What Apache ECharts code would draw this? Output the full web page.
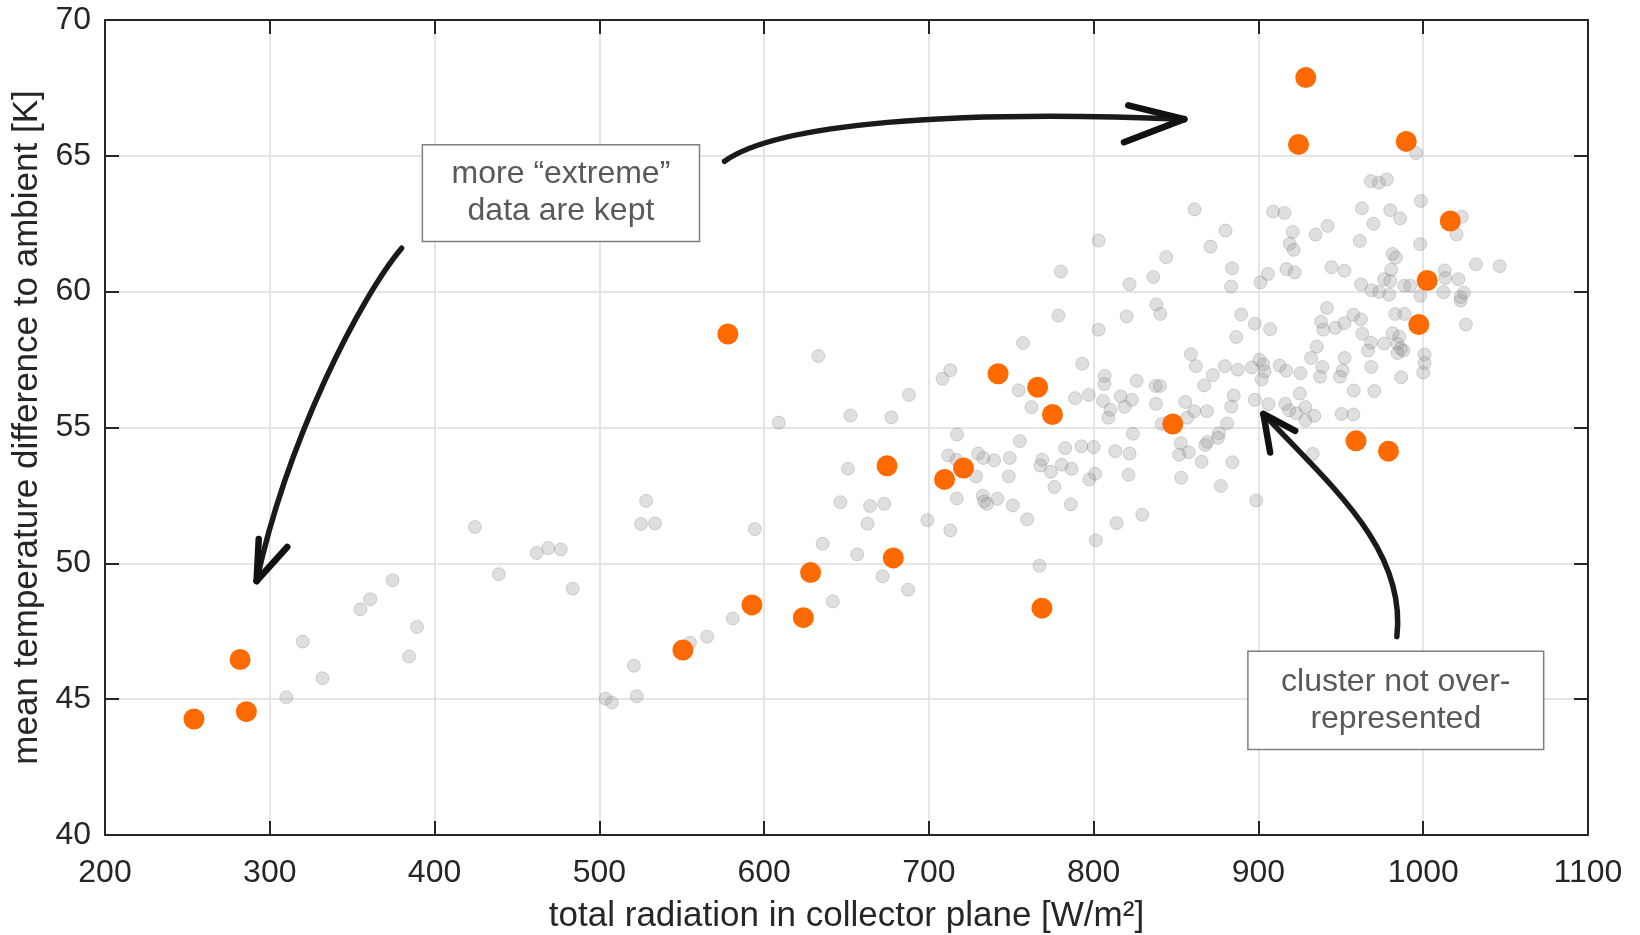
<!DOCTYPE html>
<html>
<head>
<meta charset="utf-8">
<script src="https://cdn.jsdelivr.net/npm/echarts@6/dist/echarts.min.js"></script>
<style>
html,body{margin:0;padding:0;background:#fff;}
#chart{width:1640px;height:935px;}
</style>
</head>
<body>
<div id="chart"></div>
<script>
// ---- data ----
const xTitle = 'total radiation in collector plane [W/m²]';
const yTitle = 'mean temperature difference to ambient [K]';
const xMin = 200, xMax = 1100, xStep = 100;
const yMin = 40, yMax = 70, yStep = 5;

// all data points (grey)
const grayRadiation = [310,320,332,355,361,374.5,384.6,389.4,424.5,439,462,469,476.6,483.8,503.7,507.6,521,522.7,525.3,528.4,533.8,555,565.4,581,594.4,608.9,632.9,635.5,641.7,650.9,652.4,656.5,662.8,664.3,646.3,671.9,672.9,677.3,687.4,687.9,699.1,708.2,713,713,716.9,717.1,711.7,716.7,729.9,733.1,739.6,749.1,748.5,728.6,755.2,732.7,733.5,735.3,741.6,750.9,759.7,757.1,754.5,762.3,767.1,768.8,767.7,774,776.2,780.7,786.6,782.7,786.1,788.7,793.1,797,792.6,800,797.4,800.9,801.3,778.6,780.1,803,803,806.7,806.5,805.7,810.1,808.9,816.4,823.2,818.8,826.1,837.6,840.2,837.8,855.6,861,868.7,856.8,885,883.6,897.8,906.1,916.2,918.6,923,925.1,928.5,928.5,933.9,950.5,957.6,881,876,875.4,869.1,867.7,852.9,857.6,851.9,865.5,884.2,823.8,813.1,821.8,821.2,853.1,932.9,841.4,877.2,898.7,829.5,813.9,838,840.4,820,859,862,889.5,897.8,907.1,886.5,879.6,872.3,867.1,887.5,896,900.6,903,903.8,902,912.9,916.8,925.5,935.4,931.9,938.8,937.4,941.6,938,939.4,946.7,952.1,957.6,962.2,963,968.3,966.5,952.3,951.1,949.5,968.5,957.8,970.3,1022.7,983,988.7,1025.9,976.3,981.4,985.4,984.4,986.4,988,984.4,1000.8,1000.8,1000,986.6,995.7,968.2,973.1,977.9,962.8,980,986,969.8,998.6,961.5,998.2,1023.5,1020.2,1032,1046.4,952.2,981.4,983.4,980.6,976.3,980,962.3,968.6,973.3,979.4,988.5,992.1,998.2,1013,1013.4,1021.3,1012.3,1024.7,1022.7,821.8,836.2,844,861.2,870.9,880,884,883.4,901.2,905.7,908.9,915.8,920.8,919,921.4,917,922,934.7,942,944.4];
const grayDeltaT = [45.07,47.12,45.77,48.31,48.68,49.38,46.57,47.66,51.34,49.6,50.38,50.56,50.51,49.07,45.02,44.88,46.23,45.11,51.45,52.3,51.47,47.08,47.3,47.97,51.26,55.18,57.63,50.72,48.6,53.48,55.44,50.33,51.46,52.11,52.25,49.52,52.19,55.37,49.03,56.2,51.59,56.79,57.11,51.21,52.39,54.74,53.97,53.81,54.04,53.88,53.79,53.88,53.2,53.2,54.5,52.49,52.28,52.19,52.38,52.13,51.62,58.11,56.37,55.75,49.91,53.81,53.6,53.37,52.81,53.63,53.48,54.24,52.17,56.08,57.35,56.2,54.31,54.28,53.09,53.3,50.85,59.12,60.74,58.6,61.88,56.9,56.6,55.98,55.65,55.36,56.15,56.02,55.76,56.72,56.53,56.53,55.87,55.94,55.6,55.6,55.36,56.18,55.77,56.02,55.86,55.87,55.63,55.52,56.25,55.75,55.26,55.43,55.5,55.48,55.15,54.79,54.62,54.47,54.36,54.42,54.09,54.0,53.74,53.72,54.77,54.13,54.04,53.26,53.15,54.03,55.13,52.85,52.31,51.79,51.48,59.53,59.18,59.09,57.7,57.26,59.16,58.82,58.62,58.33,57.26,56.93,56.55,57.13,57.21,57.49,57.32,57.06,56.77,57.28,57.09,57.0,57.98,57.56,57.23,56.87,59.4,58.89,58.6,58.67,58.84,59.15,58.98,58.45,58.12,57.83,57.56,57.1,56.87,57.23,56.36,56.34,59.67,59.18,59.18,58.79,58.09,58.47,58.35,58.08,57.9,57.83,57.74,57.69,57.37,57.02,56.85,65.1,64.07,64.01,64.13,63.07,63.0,62.7,62.5,63.34,61.87,61.75,62.76,62.11,61.01,60.94,60.77,61.39,61.25,60.81,60.46,60.39,60.27,60.05,59.99,59.89,60.22,60.22,59.85,60.78,60.5,60.46,59.98,59.96,59.8,60.27,60.54,61.27,63.03,61.66,62.25,60.86,60.19,60.34,60.65,62.95,62.9,62.2,61.76,61.54,60.83,60.71,62.1,62.42,60.9];

// selected ("kept") points (orange)
const keptRadiation = [254,282,285.8,550.7,592.6,623.8,628.2,578,674.6,678.4,709.5,721,742,766,775,768.6,848,928.7,924.3,989.7,1016.4,1002.4,997.3,959.2,978.9];
const keptDeltaT = [44.27,46.46,44.54,46.81,48.47,48.0,49.66,58.44,53.59,50.2,53.09,53.51,56.98,56.48,55.48,48.35,55.13,67.88,65.42,65.53,62.6,60.41,58.79,54.51,54.13];

// annotation texts and anchors (data coordinates)
const boxTexts = ['more \u201cextreme\u201d\ndata are kept', 'cluster not over-\nrepresented'];
const boxCorners = [[[392.6, 65.41], [560.8, 61.85]], [[893.6, 46.76], [1073.1, 43.15]]];
const arrowPaths = [
  {p0: [380, 61.6], c1: [355, 59.8], c2: [311, 54.6], p3: [292, 49.35], heads: [[293.3, 50.9], [310.6, 50.6]]},
  {p0: [576, 64.8], c1: [608, 66.2], c2: [715, 66.7], p3: [855, 66.35], heads: [[821, 66.86], [818.4, 65.5]]},
  {p0: [984, 47.3], c1: [990, 50.5], c2: [945, 52.8], p3: [903, 55.5], heads: [[907.1, 54.08], [922.3, 54.88]]}
];

// ---- chart ----
const FONT = '"Liberation Sans", Arial, sans-serif';
const AX = '#262626';
const chart = echarts.init(document.getElementById('chart'), null, {renderer: 'canvas'});

function axisCommon(min, max, step) {
  return {
    type: 'value', min: min, max: max, interval: step,
    axisLine: {show: true, onZero: false, lineStyle: {color: AX, width: 2}},
    axisTick: {show: true, inside: true, length: 14, lineStyle: {color: AX, width: 2}},
  };
}

const grayData = grayRadiation.map((x, i) => [x, grayDeltaT[i]]);
const keptData = keptRadiation.map((x, i) => [x, keptDeltaT[i]]);

chart.setOption({
  animation: false,
  backgroundColor: '#fff',
  grid: {left: 105, right: 52, top: 20, bottom: 100, containLabel: false, outerBoundsMode: 'none'},
  xAxis: [
    Object.assign(axisCommon(xMin, xMax, xStep), {
      position: 'bottom',
      axisLabel: {show: true, fontSize: 32, color: AX, fontFamily: FONT, margin: 22, formatter: v => String(v)},
      splitLine: {show: true, lineStyle: {color: '#dcdcdc', width: 1.5}},
      name: xTitle, nameLocation: 'middle', nameGap: 64,
      nameTextStyle: {fontSize: 35, color: AX, fontFamily: FONT}
    }),
    Object.assign(axisCommon(xMin, xMax, xStep), {
      position: 'top', axisLabel: {show: false}, splitLine: {show: false}
    })
  ],
  yAxis: [
    Object.assign(axisCommon(yMin, yMax, yStep), {
      position: 'left',
      axisLabel: {show: true, fontSize: 32, color: AX, fontFamily: FONT, margin: 14, formatter: v => String(v)},
      splitLine: {show: true, lineStyle: {color: '#dcdcdc', width: 1.5}},
      name: yTitle, nameLocation: 'middle', nameGap: 56,
      nameTextStyle: {fontSize: 35, color: AX, fontFamily: FONT}
    }),
    Object.assign(axisCommon(yMin, yMax, yStep), {
      position: 'right', axisLabel: {show: false}, splitLine: {show: false}
    })
  ],
  series: [
    {
      type: 'scatter', xAxisIndex: 0, yAxisIndex: 0, data: grayData,
      symbolSize: 13, z: 2,
      itemStyle: {color: 'rgba(150,150,150,0.38)', borderColor: 'rgba(110,110,110,0.33)', borderWidth: 1}
    },
    {
      type: 'scatter', xAxisIndex: 0, yAxisIndex: 0, data: keptData,
      symbolSize: 21, z: 3,
      itemStyle: {color: '#ff6a00', opacity: 1}
    }
  ]
});

function px(p) { return chart.convertToPixel({xAxisIndex: 0, yAxisIndex: 0}, p); }

const graphics = [];
arrowPaths.forEach(a => {
  const p0 = px(a.p0), c1 = px(a.c1), c2 = px(a.c2), p3 = px(a.p3);
  graphics.push({
    type: 'bezierCurve', z: 50,
    shape: {x1: p0[0], y1: p0[1], cpx1: c1[0], cpy1: c1[1], cpx2: c2[0], cpy2: c2[1], x2: p3[0], y2: p3[1]},
    style: {stroke: '#1a1a1a', lineWidth: 5.5, lineCap: 'round', fill: null}
  });
  a.heads.forEach(h => {
    const q = px(h);
    graphics.push({
      type: 'line', z: 50,
      shape: {x1: p3[0], y1: p3[1], x2: q[0], y2: q[1]},
      style: {stroke: '#111', lineWidth: 6.5, lineCap: 'round'}
    });
  });
});
boxCorners.forEach((bc, i) => {
  const a = px(bc[0]), b = px(bc[1]);
  graphics.push({
    type: 'rect', z: 60,
    shape: {x: a[0], y: a[1], width: b[0] - a[0], height: b[1] - a[1]},
    style: {fill: '#fff', stroke: '#7f7f7f', lineWidth: 1.5}
  });
  graphics.push({
    type: 'text', z: 61,
    style: {
      text: boxTexts[i], x: (a[0] + b[0]) / 2, y: (a[1] + b[1]) / 2,
      align: 'center', verticalAlign: 'middle',
      fontSize: 32, fontFamily: FONT, fill: '#595959', lineHeight: 37
    }
  });
});
chart.setOption({graphic: graphics});
</script>
</body>
</html>
